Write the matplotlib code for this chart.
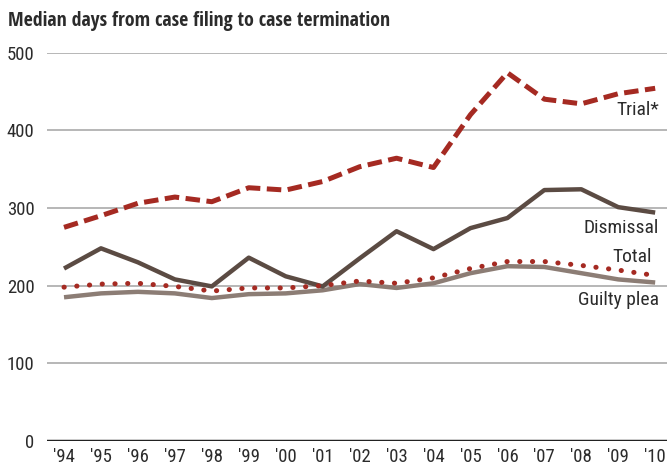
import matplotlib
matplotlib.use('agg')
import matplotlib.pyplot as plt

plt.rcParams['font.family'] = ['Roboto Condensed', 'DejaVu Sans']

years = list(range(1994, 2011))
year_labels = ["'94", "'95", "'96", "'97", "'98", "'99", "'00", "'01", "'02",
               "'03", "'04", "'05", "'06", "'07", "'08", "'09", "'10"]

trial = [275, 290, 306, 314, 308, 326, 323, 334, 353, 364, 352, 420, 474, 440, 434, 447, 454]
dismissal = [222, 248, 230, 208, 199, 236, 212, 199, 235, 270, 247, 274, 287, 323, 324, 301, 294]
total = [198, 202, 203, 199, 193, 197, 197, 200, 206, 203, 210, 222, 231, 231, 226, 220, 213]
guilty_plea = [185, 190, 192, 190, 184, 189, 190, 194, 202, 197, 203, 216, 225, 224, 216, 208, 204]

red = '#a52a22'
dark = '#5b4b43'
light = '#8c7d75'
text_color = '#2b2b2b'

fig = plt.figure(figsize=(6.67, 4.68), dpi=100)
ax = fig.add_axes([0.0705, 0.0577, 0.9295, 0.830])

for v in [100, 200, 300, 400, 500]:
  ax.axhline(v, color='#aaaaaa', lw=1.2, zorder=1)
ax.axhline(0, color='#222222', lw=2.5, zorder=1)

ax.plot(years, guilty_plea, color=light, lw=3.2, solid_capstyle='butt', zorder=3)
ax.plot(years, total, color=red, lw=3.6, linestyle=(0, (0.05, 2.5)), dash_capstyle='round', zorder=4)
ax.plot(years, dismissal, color=dark, lw=3.2, solid_capstyle='butt', zorder=3)
ax.plot(years, trial, color=red, lw=3.6, linestyle=(0, (2.9, 1.3)), dash_capstyle='butt', zorder=3)

lab_kw = dict(ha='right', va='center', fontsize=14, color=text_color)
ax.text(2010.1, 426, 'Trial*', **lab_kw)
ax.text(2010.1, 274, 'Dismissal', **lab_kw)
ax.text(2009.9, 237, 'Total', **lab_kw)
ax.text(2010.1, 181, 'Guilty plea', **lab_kw)

ax.set_xlim(1993.54, 2010.32)
ax.set_ylim(0, 500)
ax.set_xticks(years, year_labels)
ax.set_yticks([0, 100, 200, 300, 400, 500])
ax.tick_params(length=0, labelsize=13.5, colors=text_color)
ax.tick_params(axis='y', pad=9)
ax.tick_params(axis='x', pad=5)
for s in ax.spines.values():
  s.set_visible(False)

fig.text(0.012, 0.955, 'Median days from case filing to case termination',
         fontsize=14.3, fontweight='bold', family=['Open Sans Condensed', 'DejaVu Sans'],
         color=text_color, va='center', ha='left')

plt.savefig('out.png', dpi=100)
plt.close()
